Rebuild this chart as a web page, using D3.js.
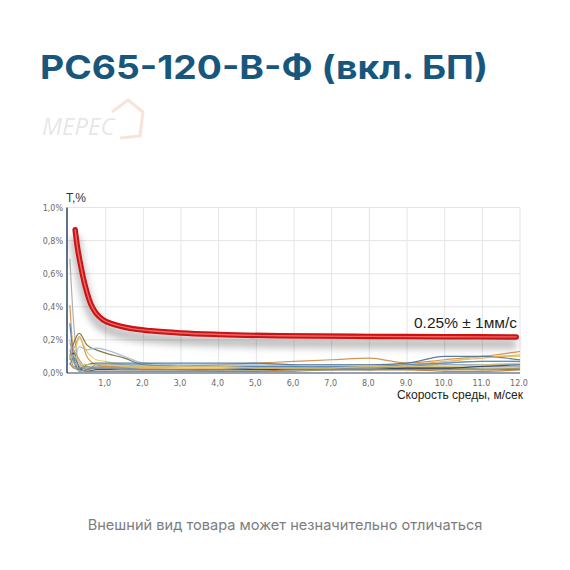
<!DOCTYPE html>
<html><head><meta charset="utf-8">
<script src="https://cdn.jsdelivr.net/npm/d3@7/dist/d3.min.js"></script>
<style>body{margin:0;background:#fff}svg{display:block}</style>
</head><body>
<script>
const title = "РС65-120-В-Ф (вкл. БП)";
const footer = "Внешний вид товара может незначительно отличаться";
const yTicks = [0, 0.2, 0.4, 0.6, 0.8, 1.0];
const yTickLabels = ["0,0%", "0,2%", "0,4%", "0,6%", "0,8%", "1,0%"];
const xTicks = [1,2,3,4,5,6,7,8,9,10,11,12];
const xTickLabels = ["1,0","2,0","3,0","4,0","5,0","6,0","7,0","8,0","9.0","10.0","11.0","12.0"];
const redX = [0.19,0.25,0.32,0.4,0.5,0.6,0.75,0.94,1.2,1.65,2.2,3,4,5.6,8,10,11.9];
const redY = [0.865,0.76,0.67,0.58,0.49,0.42,0.36,0.32,0.295,0.27,0.255,0.242,0.233,0.225,0.221,0.219,0.218];
const bgX = [0.05,0.15,0.3,0.5,0.75,1,1.5,2,3,4,5,6,7,8,9,10,11,12];
const bgColors = ["#a8a8a8","#d4893a","#7a6a2a","#e6c84a","#9ab8d6","#4a6f98","#c8904a","#2a3f66","#e8b060","#5a88b8","#8a9a70","#c07830","#6a8cb0","#d8c070"];
const bgSeries = [
  [0.69,0.30,0.06,0.03,0.04,0.04,0.03,0.03,0.02,0.02,0.02,0.02,0.02,0.03,0.03,0.03,0.04,0.04],
  [0.41,0.15,0.22,0.10,0.05,0.04,0.03,0.03,0.04,0.05,0.06,0.07,0.08,0.09,0.06,0.08,0.10,0.13],
  [0.10,0.18,0.24,0.17,0.14,0.12,0.09,0.05,0.04,0.04,0.04,0.04,0.03,0.03,0.03,0.03,0.02,0.02],
  [0.15,0.12,0.21,0.13,0.08,0.07,0.05,0.04,0.03,0.03,0.03,0.02,0.03,0.03,0.04,0.06,0.10,0.10],
  [0.20,0.08,0.16,0.14,0.15,0.14,0.10,0.06,0.05,0.05,0.05,0.05,0.05,0.05,0.05,0.06,0.07,0.07],
  [0.30,0.10,0.02,0.05,0.06,0.06,0.06,0.06,0.06,0.06,0.06,0.05,0.05,0.05,0.06,0.10,0.10,0.08],
  [0.18,0.14,0.08,0.03,0.03,0.04,0.04,0.04,0.04,0.04,0.03,0.03,0.03,0.02,0.02,0.02,0.02,0.03],
  [0.08,0.12,0.03,0.01,0.02,0.02,0.02,0.02,0.02,0.02,0.02,0.02,0.02,0.02,0.03,0.03,0.04,0.05],
  [0.12,0.06,0.05,0.02,0.03,0.03,0.03,0.03,0.03,0.03,0.03,0.03,0.04,0.04,0.05,0.07,0.09,0.11],
  [0.05,0.09,0.04,0.02,0.05,0.05,0.05,0.05,0.04,0.04,0.04,0.04,0.04,0.04,0.05,0.06,0.07,0.07],
  [0.10,0.04,0.03,0.04,0.03,0.03,0.02,0.02,0.02,0.01,0.01,0.01,0.02,0.02,0.02,0.02,0.03,0.03],
  [0.06,0.03,0.02,0.01,0.01,0.01,0.01,0.01,0.01,0.01,0.01,0.02,0.02,0.02,0.02,0.01,0.01,0.02],
  [0.14,0.07,0.01,0.02,0.03,0.03,0.03,0.02,0.02,0.02,0.03,0.03,0.03,0.03,0.04,0.05,0.05,0.05],
  [0.09,0.11,0.06,0.05,0.05,0.05,0.04,0.04,0.04,0.04,0.03,0.03,0.03,0.04,0.04,0.04,0.05,0.06]
];
const annotation = "0.25% ± 1мм/с";
const yTitle = "Т,%";
const xTitle = "Скорость среды, м/сек";

const W = 570, H = 570;
const svg = d3.select("body").append("svg").attr("width", W).attr("height", H);
const defs = svg.append("defs");
const f = defs.append("filter").attr("id","sh").attr("x","-10%").attr("y","-50%").attr("width","120%").attr("height","300%");
f.append("feGaussianBlur").attr("stdDeviation", 3.5);

// title
svg.append("text").attr("x", 40).attr("y", 79).text(title)
  .attr("font-family","Inter, 'Open Sans', sans-serif").attr("font-weight",700)
  .attr("font-size", 33).attr("fill","#17577d")
  .attr("textLength", 448).attr("lengthAdjust","spacingAndGlyphs");

// logo (faint)
const logo = svg.append("g").attr("opacity",0.2);
logo.append("path").attr("d","M112 112 L128 100 L143 112 L140 136 L120 138")
  .attr("fill","none").attr("stroke","#e07a3a").attr("stroke-width",3);
logo.append("text").attr("x", 42).attr("y", 135).text("МЕРЕС")
  .attr("font-family","'Open Sans', sans-serif").attr("font-size", 24).attr("font-style","italic")
  .attr("fill","#888");

const x = d3.scaleLinear().domain([0,12]).range([68,520]);
const y = d3.scaleLinear().domain([0,1]).range([373,207.5]);

const g = svg.append("g");
// grid
g.selectAll(".vg").data(xTicks).join("line")
  .attr("x1", d=>x(d)).attr("x2", d=>x(d)).attr("y1", y(1)).attr("y2", y(0))
  .attr("stroke","#e4e4e4").attr("stroke-width",1);
g.selectAll(".hg").data(yTicks.slice(1)).join("line")
  .attr("x1", x(0)).attr("x2", x(12)).attr("y1", d=>y(d)).attr("y2", d=>y(d))
  .attr("stroke","#e4e4e4").attr("stroke-width",1);

// background series
const line = d3.line().curve(d3.curveMonotoneX);
bgSeries.forEach((s,i)=>{
  g.append("path").attr("d", line(s.map((v,j)=>[x(bgX[j]), y(v)])))
    .attr("fill","none").attr("stroke", bgColors[i]).attr("stroke-width",1.2).attr("opacity",0.9);
});

// axes lines
g.append("line").attr("x1", x(0)-1).attr("x2", x(0)-1).attr("y1", y(1)).attr("y2", y(0))
  .attr("stroke","#2a4466").attr("stroke-width",1.5);
g.append("line").attr("x1", x(0)-1).attr("x2", x(12)).attr("y1", y(0)).attr("y2", y(0))
  .attr("stroke","#2a4466").attr("stroke-width",1.2);

// tick labels
g.selectAll(".yl").data(yTicks).join("text")
  .attr("x", 63).attr("y", d=>y(d)+3).attr("text-anchor","end")
  .text((d,i)=>yTickLabels[i]).attr("font-family","'DejaVu Sans', sans-serif")
  .attr("font-size",8).attr("fill","#6a6a6a");
g.selectAll(".xl").data(xTicks).join("text")
  .attr("x", d=>x(d)-1).attr("y", 386).attr("text-anchor","middle")
  .text((d,i)=>xTickLabels[i]).attr("font-family","'DejaVu Sans', sans-serif")
  .attr("font-size",8).attr("fill","#6a6a6a");

svg.append("text").attr("x", 66).attr("y", 202).text(yTitle)
  .attr("font-family","'Liberation Sans', Arial, sans-serif").attr("font-size",12).attr("fill","#333");
svg.append("text").attr("x", 523).attr("y", 399).attr("text-anchor","end").text(xTitle)
  .attr("font-family","'Liberation Sans', Arial, sans-serif").attr("font-size",12).attr("fill","#222");

// red curve
const redPts = redX.map((v,i)=>[x(v), y(redY[i])]);
const redLine = d3.line().curve(d3.curveMonotoneX);
g.append("path").attr("d", redLine(redPts)).attr("transform","translate(0,7)")
  .attr("fill","none").attr("stroke","#000").attr("stroke-opacity",0.25).attr("stroke-width",10)
  .attr("filter","url(#sh)");
g.append("path").attr("d", redLine(redPts)).attr("fill","none")
  .attr("stroke","#c81414").attr("stroke-width",5.5).attr("stroke-linecap","round");
g.append("path").attr("d", redLine(redPts)).attr("fill","none")
  .attr("stroke","#ff7a7a").attr("stroke-width",1.4).attr("stroke-opacity",0.8).attr("stroke-linecap","round");

svg.append("text").attr("x", 414).attr("y", 328).text(annotation)
  .attr("font-family","'Liberation Sans', Arial, sans-serif").attr("font-size",15.5).attr("fill","#1e1e1e");

// footer
svg.append("text").attr("x", 285).attr("y", 530).attr("text-anchor","middle").text(footer)
  .attr("font-family","Inter, 'Open Sans', sans-serif").attr("font-size",14.6).attr("fill","#7d7d7d");
</script>
</body></html>
